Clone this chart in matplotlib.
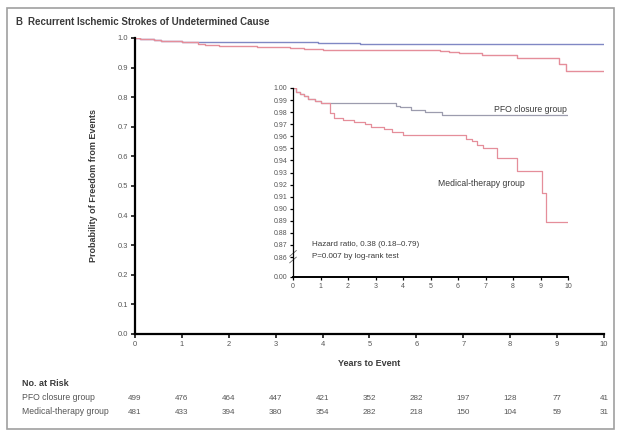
"""Kaplan-Meier curves: recurrent ischemic strokes of undetermined cause.

Main panel on the full 0-1 scale, an inset zoomed on 0.86-1.00 and
a number-at-risk table underneath. Saves ``out.png``.
"""

import matplotlib

matplotlib.use("Agg")

import matplotlib.pyplot as plt
from matplotlib.patches import Rectangle
from matplotlib.transforms import blended_transform_factory

plt.rcParams["font.family"] = ["Liberation Sans", "DejaVu Sans"]

# step points (years, probability)
pfo_years = [0, 0.1, 0.25, 0.4, 0.55, 0.8, 1.0, 3.75, 3.9, 4.3, 4.8, 5.4, 10.0]
pfo_surv = [1.0, 0.997, 0.995, 0.993, 0.991, 0.989, 0.9875, 0.9855, 0.984,
            0.982, 0.980, 0.978, 0.978]

med_years = [0, 0.1, 0.25, 0.4, 0.55, 0.8, 1.0, 1.35, 1.5, 1.8, 2.2, 2.6,
             2.85, 3.3, 3.6, 4.0, 6.3, 6.5, 6.7, 6.9, 7.4, 8.15, 9.05, 9.2, 10.0]
med_surv = [1.0, 0.997, 0.995, 0.993, 0.991, 0.989, 0.9875, 0.979, 0.975,
            0.9735, 0.972, 0.970, 0.968, 0.966, 0.9635, 0.961, 0.958, 0.956,
            0.953, 0.950, 0.942, 0.931, 0.913, 0.889, 0.889]

risk_years = list(range(11))
pfo_at_risk = [499, 476, 464, 447, 421, 352, 282, 197, 128, 77, 41]
med_at_risk = [481, 433, 394, 380, 354, 282, 218, 150, 104, 59, 31]

inset_ticks = [1.00, 0.99, 0.98, 0.97, 0.96, 0.95, 0.94, 0.93, 0.92, 0.91,
               0.90, 0.89, 0.88, 0.87, 0.86]
INSET_FLOOR = 0.8435  # where the broken axis shows "0.00"

PFO_COLOR = "#8088c4"
PFO_INSET = "#9c9cae"
MED_COLOR = "#e58e9a"
TEXT = "#3a3a3a"


def draw_main(fig):
    ax = fig.add_axes([0.2188, 0.2269, 0.760, 0.6852])
    ax.step(pfo_years, pfo_surv, where="post", color=PFO_COLOR, lw=1.0)
    ax.step(med_years, med_surv, where="post", color=MED_COLOR, lw=1.0)
    ax.set_xlim(0, 10)
    ax.set_ylim(0, 1.0)
    ax.set_xticks(range(11))
    ax.set_yticks([i / 10 for i in range(11)])
    ax.set_yticklabels([f"{i / 10:.1f}" for i in range(11)])
    for side in ("top", "right"):
        ax.spines[side].set_visible(False)
    for side in ("left", "bottom"):
        ax.spines[side].set_linewidth(1.6)
    ax.tick_params(direction="out", length=3, width=1.1, labelsize=5.4,
                   labelcolor="#555555", pad=2)
    ax.set_xlabel("Years to Event", fontsize=6.5, fontweight="bold",
                  color=TEXT, labelpad=8)
    ax.set_ylabel("Probability of Freedom from Events", fontsize=6.5,
                  fontweight="bold", color=TEXT, labelpad=14)
    return ax


def draw_inset(fig):
    ax = fig.add_axes([0.4749, 0.3588, 0.4457, 0.4375])
    ax.step(pfo_years, pfo_surv, where="post", color=PFO_INSET, lw=0.9)
    ax.step(med_years, med_surv, where="post", color=MED_COLOR, lw=0.9)
    ax.set_xlim(0, 10)
    ax.set_ylim(INSET_FLOOR, 1.0)
    ax.set_xticks(range(11))
    ax.set_yticks(inset_ticks + [INSET_FLOOR])
    ax.set_yticklabels([f"{v:.2f}" for v in inset_ticks] + ["0.00"])
    ax.patch.set_alpha(0)
    for side in ("top", "right"):
        ax.spines[side].set_visible(False)
    ax.spines["left"].set_linewidth(0.9)
    ax.spines["bottom"].set_linewidth(1.4)
    ax.tick_params(direction="out", length=2.5, width=0.9, labelsize=5,
                   labelcolor="#555555", pad=1.5)
    # axis break marks between 0.86 and 0.00
    for dy in (0.0, 0.035):
        ax.plot([-0.012, 0.012], [0.075 + dy, 0.105 + dy],
                transform=ax.transAxes, color="#666666", lw=0.6, clip_on=False)

    ax.text(7.3, 0.9826, "PFO closure group", fontsize=6.2, color=TEXT,
            va="center")
    ax.text(5.27, 0.9213, "Medical-therapy group", fontsize=6.2, color=TEXT,
            va="center")
    ax.text(0.69, 0.8708, "Hazard ratio, 0.38 (0.18\u20130.79)", fontsize=5.8,
            color=TEXT, va="center")
    ax.text(0.69, 0.8608, "P=0.007 by log-rank test", fontsize=5.8,
            color=TEXT, va="center")
    return ax


def draw_risk_table(fig, ax):
    trans = blended_transform_factory(ax.transData, fig.transFigure)
    fig.text(22 / 617, 1 - 383 / 432, "No. at Risk", fontsize=6.5,
             fontweight="bold", color=TEXT, va="center")
    rows = [("PFO closure group", pfo_at_risk, 398),
            ("Medical-therapy group", med_at_risk, 412)]
    for label, counts, ypix in rows:
        y = 1 - ypix / 432
        fig.text(22 / 617, y, label, fontsize=6.2, color="#555555",
                 va="center")
        for yr, n in zip(risk_years, counts):
            ax.text(yr, y, str(n), transform=trans, fontsize=5.8,
                    color="#555555", ha="center", va="center")


def main():
    fig = plt.figure(figsize=(6.17, 4.32), dpi=100)
    fig.patch.set_facecolor("white")
    fig.patches.append(Rectangle((7 / 617, 3 / 432), 607 / 617, 421 / 432,
                                 transform=fig.transFigure, fill=False,
                                 edgecolor="#a0a0a0", lw=1.2))
    fig.text(15 / 617, 1 - 22 / 432, "B", fontsize=7, fontweight="bold",
             color=TEXT, va="center")
    fig.text(28 / 617, 1 - 22 / 432,
             "Recurrent Ischemic Strokes of Undetermined Cause", fontsize=7,
             fontweight="bold", color=TEXT, va="center")

    ax = draw_main(fig)
    draw_inset(fig)
    draw_risk_table(fig, ax)

    fig.savefig("out.png", dpi=100)
    plt.close(fig)


if __name__ == "__main__":
    main()
